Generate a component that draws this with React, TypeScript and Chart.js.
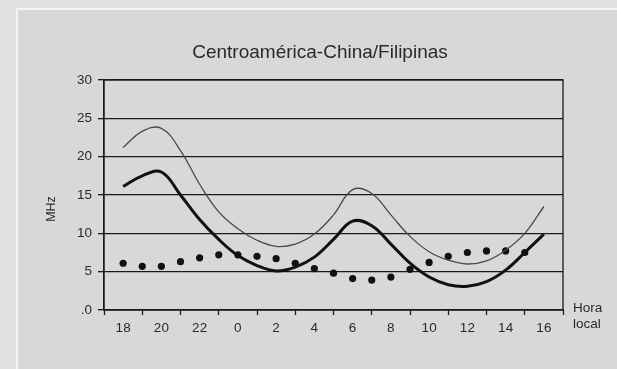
import React, { useEffect, useRef } from "react";
import { Chart, registerables } from "chart.js";

Chart.register(...registerables);

const chartTitle = "Centroamérica-China/Filipinas";
const yAxisTitle = "MHz";
const xAxisNote = ["Hora", "local"];

// one entry per hour, local time
const hourLabels = [
  "18", "19", "20", "21", "22", "23", "0", "1", "2", "3", "4", "5",
  "6", "7", "8", "9", "10", "11", "12", "13", "14", "15", "16",
];

// upper (thin) curve
const upperCurve = [
  21.2, 23.3, 23.7, 20.8, 16.4, 12.8, 10.6, 9.1, 8.3, 8.6, 9.9, 12.4,
  15.7, 15.2, 12.4, 9.6, 7.6, 6.5, 6.0, 6.4, 7.8, 10.0, 13.5,
];

// middle (thick) curve
const middleCurve = [
  16.1, 17.5, 18.0, 15.0, 11.8, 9.2, 7.1, 5.8, 5.1, 5.6, 6.9, 9.2,
  11.6, 11.0, 8.6, 6.1, 4.3, 3.3, 3.1, 3.7, 5.2, 7.5, 9.9,
];

// dotted series
const dotSeries = [
  6.1, 5.7, 5.7, 6.3, 6.8, 7.2, 7.2, 7.0, 6.7, 6.1, 5.4, 4.8,
  4.1, 3.9, 4.3, 5.3, 6.2, 7.0, 7.5, 7.7, 7.7, 7.5, null,
];

const yTicks = [0, 5, 10, 15, 20, 25, 30];

const toPoints = (arr: (number | null)[]) =>
  arr.map((v, i) => ({ x: i, y: v }));

const FONT = "'Liberation Sans', Arial, sans-serif";
const TEXT = "#2a2a2a";

const textPlugin = {
  id: "extraText",
  afterDraw(chart: any) {
    const { ctx, chartArea } = chart;
    ctx.save();
    // plot frame
    ctx.strokeStyle = "#1a1a1a";
    ctx.lineWidth = 1.3;
    ctx.strokeRect(chartArea.left, chartArea.top, chartArea.right - chartArea.left, chartArea.bottom - chartArea.top);
    // title
    ctx.fillStyle = TEXT;
    ctx.font = `19px ${FONT}`;
    ctx.textAlign = "center";
    ctx.textBaseline = "alphabetic";
    ctx.fillText(chartTitle, 320, 58);
    // y axis title
    ctx.save();
    ctx.translate(52, 209);
    ctx.rotate(-Math.PI / 2);
    ctx.font = `12.5px ${FONT}`;
    ctx.textBaseline = "middle";
    ctx.fillText(yAxisTitle, 0, 0);
    ctx.restore();
    // x note
    ctx.font = `13.5px ${FONT}`;
    ctx.textAlign = "left";
    ctx.textBaseline = "middle";
    ctx.fillText(xAxisNote[0], 573, 308);
    ctx.fillText(xAxisNote[1], 573, 324);
    ctx.restore();
  },
};

export default function App() {
  const ref = useRef<HTMLCanvasElement>(null);
  useEffect(() => {
    if (!ref.current) return;
    const chart = new Chart(ref.current, {
      type: "line",
      data: {
        datasets: [
          {
            label: "upper",
            data: toPoints(upperCurve),
            borderColor: "#4a4a4a",
            borderWidth: 1.3,
            pointRadius: 0,
            tension: 0.4,
            fill: false,
          },
          {
            label: "middle",
            data: toPoints(middleCurve),
            borderColor: "#111",
            borderWidth: 3,
            pointRadius: 0,
            tension: 0.4,
            fill: false,
          },
          {
            label: "dots",
            data: toPoints(dotSeries),
            showLine: false,
            pointRadius: 3.6,
            pointBackgroundColor: "#111",
            pointBorderWidth: 0,
            borderColor: "#111",
          },
        ],
      },
      plugins: [textPlugin],
      options: {
        animation: false,
        responsive: false,
        events: [],
        layout: { padding: { left: 0, right: 54, top: 80, bottom: 0 } },
        plugins: {
          legend: { display: false },
          tooltip: { enabled: false },
          title: { display: false },
        },
        scales: {
          x: {
            type: "linear",
            min: -1,
            max: 23,
            afterFit: (s: any) => { s.height = 59; },
            afterBuildTicks: (s: any) => {
              const t = [];
              for (let v = -1; v <= 23; v++) t.push({ value: v });
              s.ticks = t;
            },
            ticks: {
              autoSkip: false,
              maxRotation: 0,
              padding: 5,
              color: TEXT,
              font: { family: FONT, size: 13.5 },
              callback: (v: any) => {
                const i = Number(v);
                return i >= 0 && i < hourLabels.length && i % 2 === 0 ? hourLabels[i] : "";
              },
            },
            grid: {
              drawOnChartArea: false,
              tickLength: 5,
              tickWidth: 1.3,
              tickColor: (c: any) => (c.tick && Math.abs(c.tick.value) % 2 === 1 ? "#1a1a1a" : "rgba(0,0,0,0)"),
            },
            border: { display: true, color: "#1a1a1a", width: 1.3 },
          },
          y: {
            min: 0,
            max: 30,
            afterFit: (s: any) => { s.width = 104; },
            afterBuildTicks: (s: any) => {
              s.ticks = yTicks.map((v) => ({ value: v }));
            },
            ticks: {
              padding: 6,
              color: TEXT,
              font: { family: FONT, size: 13.5 },
              callback: (v: any) => (Number(v) === 0 ? ".0" : String(v)),
            },
            grid: {
              color: "#1a1a1a",
              lineWidth: 1.3,
              tickLength: 6,
            },
            border: { display: true, color: "#1a1a1a", width: 1.3 },
          },
        },
      },
    });
    return () => chart.destroy();
  }, []);

  return (
    <div style={{ position: "fixed", left: 0, top: 0, width: 617, height: 369, background: "#e2e2e2", overflow: "hidden" }}>
      <div
        style={{
          position: "absolute",
          left: 16,
          top: 8,
          right: 0,
          bottom: 0,
          background: "#d8d8d8",
          borderLeft: "2px solid #f5f5f5",
          borderTop: "2px solid #f5f5f5",
        }}
      />
      <canvas ref={ref} width={617} height={369} style={{ position: "absolute", left: 0, top: 0, width: 617, height: 369 }} />
    </div>
  );
}
